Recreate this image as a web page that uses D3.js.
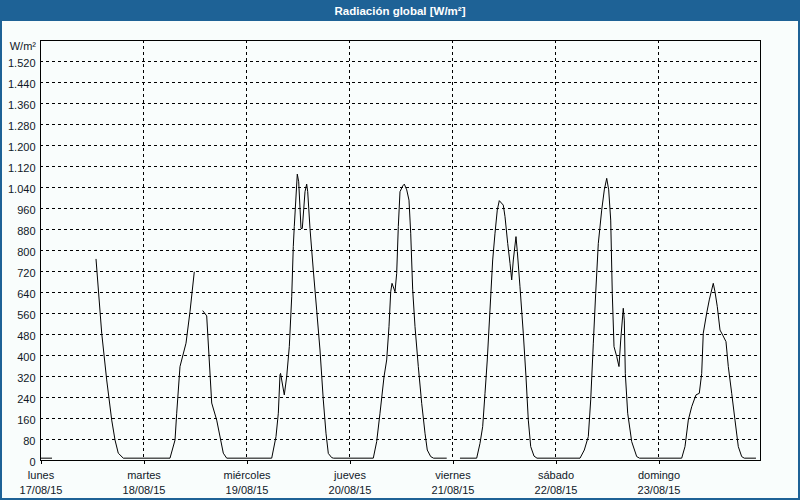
<!DOCTYPE html>
<html><head><meta charset="utf-8">
<script src="https://cdn.jsdelivr.net/npm/d3@7"></script>
<style>body{margin:0;background:#fff}svg{display:block}</style>
</head><body><svg id="c" width="800" height="500"></svg>
<script>
const chartTitle = "Radiación global [W/m²]";
const unitLabel = "W/m²";
const dayNames = ["lunes","martes","miércoles","jueves","viernes","sábado","domingo"];
const dayDates = ["17/08/15","18/08/15","19/08/15","20/08/15","21/08/15","22/08/15","23/08/15"];
const yTicks = [0,80,160,240,320,400,480,560,640,720,800,880,960,1040,1120,1200,1280,1360,1440,1520];

// [hour of day, W/m²]; null = gap in the record
const lunes = [[0,7],[2.8,7],null,[13.05,766],[14.38,483],[15.54,305],[16.71,152],[17.48,76],[18.24,26],[19.41,7]];
const martes = [[6.29,7],[7.46,76],[7.85,178],[8.62,356],[10.02,445],[10.95,565],[11.95,717],null,
  [13.91,569],[14.84,549],[16.01,217],[17.17,152],[18.71,26],[19.50,7]];
const miercoles = [[5.99,7],[6.99,89],[7.53,178],[7.92,324],[8.05,330],[8.92,248],[9.48,317],[10.09,432],[10.65,622],
  [11.02,813],[11.25,889],[11.95,1089],[12.28,1060],[12.82,882],[13.12,882],[13.75,1022],[14.14,1051],[14.38,1022],
  [14.91,882],[15.68,724],[16.47,571],[17.24,419],[18.01,229],[18.64,102],[19.18,25],[19.97,9],[20.4,7]];
const jueves = [[5.66,7],[6.45,70],[7.22,178],[8.16,317],[8.78,381],[9.32,508],[9.72,641],[10.02,673],[10.72,641],
  [11.11,711],[11.49,889],[11.88,1022],[12.51,1044],[12.89,1051],[13.45,1029],[13.98,990],[14.38,864],[14.84,648],
  [15.38,508],[16.15,356],[16.94,216],[17.71,102],[18.24,38],[19.04,13],[19.7,7],[22.77,7],null];
const viernes = [[1.86,7],[5.75,7],[6.52,63],[7.15,127],[7.69,254],[8.22,381],[8.85,571],[9.48,762],[10.02,864],
  [10.55,952],[11.02,988],[11.95,971],[12.35,927],[12.98,825],[13.52,749],[13.91,686],[14.29,762],[14.91,851],
  [15.22,794],[15.84,660],[16.61,483],[17.24,317],[17.78,152],[18.34,51],[19.11,15],[19.8,7]];
const sabado = [[5.83,7],[6.83,38],[7.76,89],[8.32,229],[8.93,445],[9.48,635],[10.09,825],[10.88,952],[11.49,1029],
  [12.05,1073],[12.51,1029],[12.98,914],[13.35,635],[13.75,432],[14.38,394],[14.91,356],[15.31,457],[15.91,578],
  [16.15,533],[16.38,330],[16.94,178],[17.87,70],[19.04,13],[19.7,7]];
const domingo = [[5.52,7],[6.29,51],[7.06,152],[7.85,203],[8.85,248],[9.62,254],[10.18,330],[10.55,483],[11.34,559],
  [11.95,610],[12.88,673],[13.28,641],[13.82,584],[14.45,495],[15.07,476],[15.84,451],[16.38,356],[17.17,254],
  [17.94,152],[18.71,51],[19.50,13],[20.1,7],[22.83,7]];
const days = [lunes, martes, miercoles, jueves, viernes, sabado, domingo];

const series = [];
days.forEach((arr, i) => arr.forEach(p => series.push(p ? {t: i*24 + p[0], v: p[1]} : {t: null, v: null})));

const svg = d3.select("#c");
const W = 800, H = 500;
const L = 40, R = 760, T = 40, B = 460;
const blue = "#1e6296";
const font = "'Liberation Sans', Arial, sans-serif";

svg.append("rect").attr("width", W).attr("height", H).attr("fill", blue);
svg.append("rect").attr("x", 2).attr("y", 21).attr("width", W - 4).attr("height", H - 23).attr("fill", "#f9fdfc");
svg.append("text").attr("x", W/2).attr("y", 15).attr("text-anchor", "middle")
  .attr("fill", "#fff").attr("font-family", font).attr("font-weight", "bold").attr("font-size", "11.5px")
  .text(chartTitle);

const x = d3.scaleLinear().domain([0, 168]).range([L, L + 721]);
const y = d3.scaleLinear().domain([0, 1600]).range([B, T]);

const loc = d3.formatLocale({decimal: ",", thousands: ".", grouping: [3], currency: ["", " €"]});
const fmt = loc.format(",d");

// horizontal grid
svg.append("g").selectAll("line").data(yTicks.filter(d => d > 0)).join("line")
  .attr("x1", L).attr("x2", R)
  .attr("y1", d => Math.round(y(d)) + 0.5).attr("y2", d => Math.round(y(d)) + 0.5)
  .attr("stroke", "#000").attr("stroke-dasharray", "3,3").attr("shape-rendering", "crispEdges");
// vertical grid
const dayTicks = dayNames.map((d, i) => i * 24);
svg.append("g").selectAll("line").data(dayTicks.filter(d => d > 0)).join("line")
  .attr("x1", d => Math.round(x(d)) + 0.5).attr("x2", d => Math.round(x(d)) + 0.5)
  .attr("y1", T).attr("y2", B)
  .attr("stroke", "#000").attr("stroke-dasharray", "3,3").attr("shape-rendering", "crispEdges");

// plot frame
svg.append("rect").attr("x", L + 0.5).attr("y", T + 0.5).attr("width", R - L).attr("height", B - T)
  .attr("fill", "none").attr("stroke", "#000").attr("shape-rendering", "crispEdges");

// y axis labels
const yAxis = d3.axisLeft(y).tickValues(yTicks).tickSize(0).tickPadding(5).tickFormat(fmt);
const gy = svg.append("g").attr("transform", `translate(${L + 0.5},0.5)`).call(yAxis);
gy.select(".domain").remove();
gy.selectAll("text").attr("font-family", font).attr("font-size", "11px").attr("fill", "#101828").attr("dy", "0.45em");

svg.append("text").attr("x", 36).attr("y", 50).attr("text-anchor", "end")
  .attr("font-family", font).attr("font-size", "11px").attr("fill", "#101828").text(unitLabel);

// x axis
const xAxis = d3.axisBottom(x).tickValues(dayTicks).tickSize(3).tickPadding(8).tickFormat("");
const gx = svg.append("g").attr("transform", `translate(0.5,${B + 0.5})`).call(xAxis);
gx.select(".domain").remove();
gx.selectAll(".tick line").attr("stroke", "#000").attr("shape-rendering", "crispEdges");
gx.selectAll(".tick").each(function(d, i) {
  const t = d3.select(this).append("text").attr("text-anchor", "middle")
    .attr("font-family", font).attr("font-size", "11px").attr("fill", "#101828");
  t.append("tspan").attr("x", 0).attr("y", 18.5).text(dayNames[i]);
  t.append("tspan").attr("x", 0).attr("y", 33.5).text(dayDates[i]);
});

// bottom axis line over frame
svg.append("line").attr("x1", L).attr("x2", R + 1).attr("y1", B + 0.5).attr("y2", B + 0.5)
  .attr("stroke", "#000").attr("shape-rendering", "crispEdges");

// data line
const line = d3.line().defined(d => d.v != null).x(d => x(d.t)).y(d => y(d.v));
svg.append("path").datum(series).attr("d", line)
  .attr("fill", "none").attr("stroke", "#000").attr("stroke-width", 1);
</script>
</body></html>
